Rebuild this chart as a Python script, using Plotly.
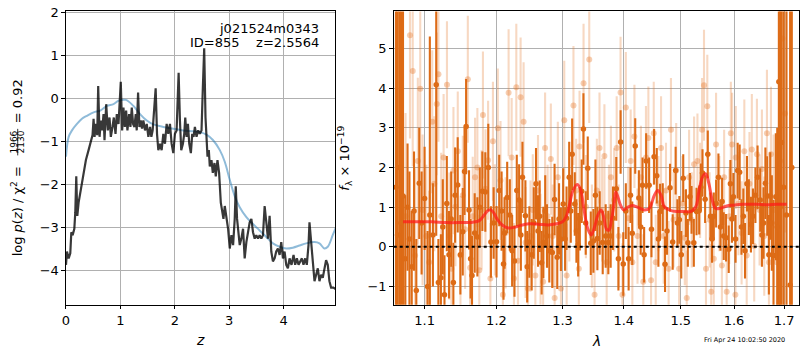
import plotly.graph_objects as go

# ---------------- p(z) panel ----------------
pz_z = [0.000, 0.018, 0.049, 0.079, 0.098, 0.122, 0.153, 0.171, 0.189, 0.208, 0.232, 0.275, 0.324,
        0.366, 0.415, 0.458, 0.488, 0.507, 0.525, 0.549, 0.574, 0.592, 0.617, 0.641, 0.665, 0.690,
        0.708, 0.739, 0.769, 0.800, 0.824, 0.855, 0.879, 0.910, 0.934, 0.965, 0.983, 1.007, 1.032,
        1.056, 1.081, 1.105, 1.129, 1.160, 1.184, 1.209, 1.233, 1.258, 1.282, 1.300, 1.325, 1.349,
        1.374, 1.398, 1.422, 1.453, 1.484, 1.514, 1.545, 1.569, 1.593, 1.624, 1.648, 1.673, 1.697,
        1.728, 1.758, 1.789, 1.819, 1.850, 1.880, 1.911, 1.941, 1.972, 2.002, 2.033, 2.051, 2.070,
        2.094, 2.118, 2.149, 2.173, 2.192, 2.216, 2.241, 2.265, 2.295, 2.320, 2.344, 2.369, 2.399,
        2.430, 2.460, 2.491, 2.515, 2.540, 2.564, 2.582, 2.601, 2.625, 2.643, 2.674, 2.698, 2.729,
        2.753, 2.784, 2.814, 2.845, 2.869, 2.894, 2.918, 2.949, 2.979, 3.010, 3.040, 3.071, 3.101,
        3.120, 3.144, 3.193, 3.223, 3.254, 3.284, 3.315, 3.346, 3.376, 3.407, 3.437, 3.468, 3.498,
        3.529, 3.559, 3.590, 3.620, 3.651, 3.681, 3.712, 3.742, 3.773, 3.803, 3.834, 3.864, 3.895,
        3.926, 3.956, 3.987, 4.017, 4.048, 4.078, 4.109, 4.145, 4.182, 4.212, 4.243, 4.274, 4.304,
        4.335, 4.365, 4.396, 4.426, 4.457, 4.475, 4.505, 4.536, 4.567, 4.597, 4.628, 4.658, 4.689,
        4.719, 4.750, 4.780, 4.811, 4.841, 4.872, 4.914, 4.963]
pz_logp = [-3.87, -3.56, -3.72, -3.60, -3.11, -3.18, -3.03, -2.65, -1.81, -2.73, -2.42, -2.11, -1.73,
           -1.43, -1.20, -0.97, -0.85, -0.47, -0.89, -0.59, -0.85, 0.29, -0.89, -0.51, -0.74, -0.36,
           -0.97, -0.13, -0.74, -0.44, -0.89, -0.66, -0.44, -0.82, -0.36, -0.59, -0.13, 0.39, -0.74,
           -0.21, -0.66, -0.28, -0.74, -0.36, -0.66, -0.21, -0.59, -0.66, -0.36, -0.74, 0.14, -0.66,
           -0.51, -0.70, -0.51, -0.74, -0.59, -0.89, -0.66, -0.89, -0.74, -0.13, 0.24, -0.82, -1.20,
           -1.05, -1.20, -0.82, -1.05, -0.59, -0.82, -0.59, -1.05, -1.27, -0.82, -0.74, -0.13, 0.60,
           -0.51, -1.20, -1.05, -0.82, -0.44, -0.89, -0.59, -1.05, -1.27, -0.82, -0.89, -0.66, -0.89,
           -0.74, -0.82, -0.74, 0.25, 1.17, -0.44, -0.97, -1.35, -1.20, -1.58, -1.43, -1.73, -1.50,
           -1.81, -1.43, -1.73, -2.42, -2.65, -2.80, -2.50, -2.80, -3.03, -3.49, -3.18, -3.41, -2.80,
           -2.04, -2.80, -3.41, -3.26, -3.03, -3.72, -3.34, -3.11, -2.88, -2.80, -3.11, -3.26, -3.18,
           -3.26, -3.18, -3.26, -3.18, -2.50, -2.95, -3.26, -2.73, -3.56, -3.79, -3.72, -3.56, -3.49,
           -3.64, -3.34, -3.72, -3.56, -3.87, -3.95, -3.72, -3.87, -3.64, -3.87, -3.72, -3.87, -3.79,
           -3.72, -3.87, -3.72, -3.87, -3.41, -2.88, -3.26, -3.79, -4.25, -4.10, -3.95, -4.25, -4.10,
           -4.17, -3.95, -3.76, -3.87, -4.25, -4.40, -4.40, -4.44]

prior_z = [0.000, 0.049, 0.110, 0.201, 0.293, 0.385, 0.507, 0.629, 0.751, 0.873, 0.965, 1.100,
           1.239, 1.361, 1.484, 1.606, 1.789, 1.972, 2.155, 2.338, 2.460, 2.582, 2.704, 2.827,
           2.918, 3.010, 3.101, 3.193, 3.315, 3.437, 3.559, 3.681, 3.803, 3.926, 4.048, 4.170,
           4.292, 4.414, 4.567, 4.658, 4.750, 4.811, 4.902, 4.963]
prior_logp = [-1.35, -0.89, -0.74, -0.59, -0.47, -0.40, -0.32, -0.28, -0.17, -0.13, -0.05, -0.03,
              -0.17, -0.36, -0.51, -0.60, -0.66, -0.70, -0.74, -0.76, -0.78, -0.84, -0.97, -1.20,
              -1.47, -1.89, -2.27, -2.53, -2.76, -2.92, -3.07, -3.22, -3.37, -3.45, -3.49, -3.47,
              -3.42, -3.37, -3.34, -3.37, -3.49, -3.45, -3.18, -2.99]

# ---------------- spectrum panel ----------------
# binned spectrum (dark)
spec_wave = [1.0625, 1.0645, 1.0668, 1.0690, 1.0716, 1.0745, 1.0775, 1.0800, 1.0830, 1.0860, 1.0890,
             1.0929, 1.0960, 1.1000, 1.1040, 1.1070, 1.1111, 1.1156, 1.1185, 1.1219, 1.1245, 1.1268,
             1.1300, 1.1330, 1.1360, 1.1390, 1.1414, 1.1450, 1.1487, 1.1520, 1.1545, 1.1567, 1.1608,
             1.1630, 1.1650, 1.1688, 1.1726, 1.1760, 1.1797, 1.1839, 1.1882, 1.1920, 1.1959, 1.2001,
             1.2040, 1.2075, 1.2103, 1.2118, 1.2157, 1.2196, 1.2230, 1.2265, 1.2299, 1.2334, 1.2360,
             1.2384, 1.2428, 1.2455, 1.2488, 1.2523, 1.2555, 1.2589, 1.2620, 1.2645, 1.2675, 1.2701,
             1.2730, 1.2757, 1.2793, 1.2839, 1.2875, 1.2917, 1.2945, 1.2974, 1.3011, 1.3040, 1.3063,
             1.3105, 1.3130, 1.3152, 1.3194, 1.3220, 1.3248, 1.3275, 1.3305, 1.3333, 1.3370, 1.3403,
             1.3452, 1.3495, 1.3528, 1.3560, 1.3598, 1.3648, 1.3697, 1.3741, 1.3780, 1.3819, 1.3874,
             1.3910, 1.3947, 1.3992, 1.4035, 1.4083, 1.4115, 1.4145, 1.4196, 1.4259, 1.4290, 1.4322,
             1.4350, 1.4385, 1.4437, 1.4478, 1.4524, 1.4571, 1.4600, 1.4630, 1.4677, 1.4718, 1.4753,
             1.4807, 1.4855, 1.4908, 1.4940, 1.4975, 1.5010, 1.5046, 1.5095, 1.5130, 1.5168, 1.5198,
             1.5240, 1.5290, 1.5339, 1.5370, 1.5401, 1.5450, 1.5500, 1.5550, 1.5580, 1.5613, 1.5657,
             1.5701, 1.5740, 1.5771, 1.5802, 1.5847, 1.5898, 1.5930, 1.5960, 1.5988, 1.6030, 1.6071,
             1.6110, 1.6145, 1.6182, 1.6215, 1.6253, 1.6290, 1.6331, 1.6371, 1.6420, 1.6463, 1.6516,
             1.6550, 1.6583, 1.6620, 1.6657, 1.6690, 1.6717, 1.6750, 1.6784, 1.6831, 1.6860, 1.6893,
             1.6920, 1.6947, 1.6990, 1.7050, 1.7125, 1.7160]
spec_flux = [1.50, 0.30, 2.00, 0.60, 1.28, -0.30, 1.00, 0.20, -0.50, 0.90, -1.10,
             1.60, 0.60, 1.22, -1.00, 0.80, 0.30, 4.08, -0.90, -0.78, 0.50, -1.21,
             1.09, -0.20, 0.70, -0.90, 1.30, 1.56, -0.20, 0.38, 1.90, 3.03, 0.93,
             -0.30, -0.72, 0.35, 0.25, 1.00, 1.40, 1.38, 2.00, 0.12, 0.60, 0.13,
             1.42, 0.90, -0.43, 0.35, 1.24, 0.80, -0.10, -0.36, 1.42, 1.18, 0.30,
             1.75, 0.78, -0.50, 0.12, -0.20, 0.60, 1.59, 0.40, 0.77, -0.40, 0.11,
             0.90, 0.27, -0.10, -0.14, 1.19, -0.26, 0.70, 0.19, 1.08, 0.20, 0.72,
             1.75, 0.90, 2.33, 1.08, 0.40, 0.05, 0.71, 1.40, 2.97, 0.60, 1.98,
             0.09, 0.15, 1.30, 0.21, 0.60, 0.11, 0.27, 0.11, 0.27, 0.72, 1.46,
             -0.30, 2.64, -0.43, 0.90, -0.30, 1.30, 0.34, 2.54, 1.23, 0.50, 1.55,
             -0.20, 2.16, 1.55, 0.44, 2.27, 1.79, 0.20, 0.89, 1.00, -0.44, 0.40,
             1.49, 0.12, 1.92, 0.60, 0.68, -0.20, 1.73, 0.85, 0.10, 1.26, 0.93,
             0.10, 0.89, 0.91, 1.50, 1.86, 1.20, 2.33, 0.77, 0.20, 0.77, 1.09,
             1.75, 0.50, 1.14, 0.27, 0.23, -0.06, 1.59, 0.70, 1.26, 0.20, 1.92,
             1.88, 0.50, 0.77, -0.10, 1.59, 1.00, 0.56, 0.77, 1.30, 1.75, 1.18,
             0.30, 0.60, 1.60, 1.28, -0.20, 1.28, 0.60, -0.22, 1.26, 0.50, 4.16,
             1.00, 2.63, 1.50, 0.80, -0.96, 2.00]
spec_err = [9.0, 9.0, 8.0, 7.0, 6.0, 1.6, 1.6, 1.7, 1.4, 1.5, 1.3,
            1.4, 1.3, 1.3, 1.4, 4.5, 1.3, 3.8, 1.1, 1.1, 1.2, 1.0,
            1.2, 1.1, 1.2, 1.0, 1.2, 1.2, 1.0, 1.1, 1.1, 1.2, 1.0,
            1.0, 1.0, 1.0, 1.0, 1.0, 1.0, 1.0, 1.1, 0.9, 0.9, 0.9,
            0.9, 1.0, 0.9, 0.9, 0.9, 0.9, 0.9, 0.9, 0.9, 0.9, 0.9,
            0.9, 0.9, 0.9, 0.9, 0.9, 0.9, 0.9, 0.9, 0.9, 0.8, 0.9,
            0.9, 0.8, 0.8, 0.9, 0.9, 0.8, 0.9, 0.8, 0.9, 0.8, 0.8,
            0.9, 0.8, 0.9, 0.8, 0.8, 0.8, 0.8, 0.8, 0.9, 0.8, 0.8,
            0.8, 0.8, 0.9, 0.8, 0.8, 0.8, 0.8, 0.8, 0.8, 0.8, 0.8,
            0.8, 0.8, 0.8, 0.7, 0.8, 0.7, 0.8, 0.7, 0.7, 0.7, 0.7,
            0.7, 0.7, 0.7, 0.7, 0.7, 0.7, 0.7, 0.7, 0.6, 0.7, 0.6,
            0.6, 0.7, 0.6, 0.6, 0.6, 0.6, 0.6, 0.6, 0.6, 0.6, 0.6,
            0.6, 0.6, 0.6, 0.6, 0.6, 0.6, 0.6, 0.6, 0.6, 0.6, 0.6,
            0.6, 0.6, 0.6, 0.6, 0.6, 0.6, 0.6, 0.6, 0.6, 0.6, 0.7,
            0.7, 0.7, 0.7, 0.7, 0.7, 0.7, 0.7, 0.7, 0.7, 0.8, 0.8,
            0.8, 0.9, 0.9, 1.0, 1.0, 1.1, 1.2, 1.4, 1.6, 2.5, 6.0,
            8.0, 8.0, 9.0, 9.0, 9.0, 9.0]

# full-resolution spectrum (light)
full_wave = [1.0749, 1.0807, 1.0843, 1.0874, 1.0910, 1.0942, 1.0973, 1.1023, 1.1060, 1.1102, 1.1130,
             1.1163, 1.1186, 1.1223, 1.1256, 1.1302, 1.1335, 1.1363, 1.1391, 1.1419, 1.1451, 1.1488,
             1.1521, 1.1553, 1.1591, 1.1623, 1.1660, 1.1693, 1.1726, 1.1753, 1.1786, 1.1805, 1.1842,
             1.1879, 1.1912, 1.1949, 1.1977, 1.2020, 1.2059, 1.2094, 1.2134, 1.2178, 1.2223, 1.2257,
             1.2292, 1.2317, 1.2356, 1.2401, 1.2431, 1.2465, 1.2505, 1.2540, 1.2579, 1.2619, 1.2658,
             1.2698, 1.2728, 1.2767, 1.2817, 1.2847, 1.2876, 1.2926, 1.2975, 1.3027, 1.3065, 1.3108,
             1.3173, 1.3216, 1.3259, 1.3270, 1.3335, 1.3373, 1.3427, 1.3470, 1.3514, 1.3551, 1.3595,
             1.3638, 1.3676, 1.3714, 1.3751, 1.3784, 1.3838, 1.3881, 1.3914, 1.3946, 1.3978, 1.4035,
             1.4076, 1.4118, 1.4147, 1.4182, 1.4235, 1.4294, 1.4335, 1.4382, 1.4424, 1.4471, 1.4518,
             1.4553, 1.4600, 1.4647, 1.4694, 1.4735, 1.4782, 1.4824, 1.4871, 1.4918, 1.4971, 1.5031,
             1.5074, 1.5110, 1.5153, 1.5202, 1.5245, 1.5307, 1.5356, 1.5393, 1.5429, 1.5466, 1.5491,
             1.5534, 1.5564, 1.5613, 1.5656, 1.5718, 1.5767, 1.5810, 1.5859, 1.5908, 1.5939, 1.5963,
             1.6027, 1.6034, 1.6087, 1.6148, 1.6201, 1.6248, 1.6302, 1.6349, 1.6396, 1.6450, 1.6503,
             1.6550, 1.6597, 1.6651, 1.6691, 1.6732, 1.6785, 1.6852, 1.6919, 1.6966, 1.7020]
full_flux = [0.77, 5.33, 4.43, -0.22, 2.16, 3.98, 0.93, 0.27, -0.39, 3.15, 1.59,
             3.60, 4.35, 0.77, 2.25, 4.08, 0.27, -0.55, 1.92, 1.01, 2.41, -0.22,
             1.30, 0.44, 4.22, -0.53, 0.77, 1.75, 2.00, -0.59, 0.93, 3.32, 1.46,
             2.18, -0.80, 2.66, 0.68, 2.99, 1.67, -1.21, 0.35, 3.88, 2.25, -0.80,
             4.02, -0.35, 3.77, 3.15, 0.11, -1.05, 0.27, 0.93, -0.72, 1.42, -0.06,
             -0.88, 2.49, 0.77, 2.21, 0.27, -1.29, 1.75, -1.05, 3.19, -0.72, 0.93,
             3.56, 1.42, -0.55, 2.53, 4.12, 1.01, 4.72, 0.27, -1.21, 1.42, 2.49,
             0.93, 2.29, -0.39, 0.77, 1.75, 1.18, 2.49, 0.27, 3.89, -1.21, 3.51,
             0.72, 2.16, -0.39, 2.78, 0.27, 1.75, -0.88, 2.25, 2.74, -0.84, 2.86,
             -0.39, 1.09, 2.49, 0.27, 1.42, -0.55, 2.95, 0.68, 1.92, -0.55, 1.09,
             0.23, -1.29, 1.75, 0.68, 2.08, 2.16, 1.42, 2.95, 4.07, -0.55, 3.54,
             0.68, -1.13, -0.30, 2.58, 1.09, -0.47, 1.75, -1.13, 0.77, 2.86, 2.58,
             -1.21, 2.25, 1.09, 0.35, 2.41, -0.22, 1.59, 2.45, 0.02, 2.33, 0.93,
             1.96, 0.27, 2.86, -0.39, 2.33, 0.93, -0.39, 2.16, 5.25, 3.36]
full_err = [2.6, 2.6, 2.4, 2.2, 2.1, 2.0, 1.9, 1.8, 1.8, 1.8, 1.7,
            1.8, 1.7, 1.6, 1.6, 1.6, 1.6, 1.5, 1.6, 1.5, 1.5, 1.5,
            1.5, 1.5, 1.6, 1.5, 1.5, 1.5, 1.5, 1.4, 1.5, 1.6, 1.5,
            1.5, 1.4, 1.5, 1.4, 1.5, 1.5, 1.4, 1.4, 1.6, 1.5, 1.4,
            1.6, 1.4, 1.5, 1.5, 1.4, 1.4, 1.4, 1.4, 1.4, 1.4, 1.4,
            1.3, 1.4, 1.3, 1.4, 1.3, 1.3, 1.4, 1.3, 1.5, 1.3, 1.3,
            1.5, 1.3, 1.3, 1.4, 1.5, 1.3, 1.6, 1.3, 1.3, 1.3, 1.4,
            1.3, 1.3, 1.3, 1.3, 1.3, 1.3, 1.3, 1.3, 1.4, 1.3, 1.4,
            1.3, 1.3, 1.2, 1.3, 1.2, 1.3, 1.2, 1.3, 1.3, 1.2, 1.3,
            1.2, 1.2, 1.3, 1.2, 1.2, 1.2, 1.3, 1.2, 1.2, 1.2, 1.2,
            1.2, 1.2, 1.2, 1.2, 1.2, 1.2, 1.2, 1.3, 1.4, 1.2, 1.3,
            1.2, 1.2, 1.2, 1.3, 1.2, 1.2, 1.2, 1.2, 1.2, 1.3, 1.3,
            1.3, 1.3, 1.3, 1.3, 1.3, 1.3, 1.3, 1.4, 1.4, 1.4, 1.4,
            1.5, 1.5, 1.6, 1.7, 1.7, 1.9, 2.0, 2.4, 2.8, 3.0]

# best-fit model
model_wave = [1.0717, 1.0922, 1.1102, 1.1288, 1.1474, 1.1660, 1.1753, 1.1823, 1.1870, 1.1916, 1.1963,
              1.2010, 1.2084, 1.2158, 1.2257, 1.2356, 1.2480, 1.2629, 1.2777, 1.2901, 1.3000, 1.3054,
              1.3108, 1.3162, 1.3232, 1.3286, 1.3341, 1.3405, 1.3459, 1.3514, 1.3568, 1.3622, 1.3665,
              1.3708, 1.3751, 1.3795, 1.3838, 1.3865, 1.3903, 1.3946, 1.4000, 1.4071, 1.4147, 1.4235,
              1.4353, 1.4441, 1.4529, 1.4588, 1.4647, 1.4706, 1.4824, 1.4941, 1.5061, 1.5184, 1.5276,
              1.5337, 1.5399, 1.5460, 1.5521, 1.5583, 1.5644, 1.5736, 1.5859, 1.5982, 1.6181, 1.6450,
              1.6651, 1.6852, 1.7054]
model_flux = [0.63, 0.63, 0.63, 0.61, 0.61, 0.62, 0.66, 0.80, 0.90, 0.93, 0.85,
              0.70, 0.55, 0.48, 0.49, 0.54, 0.58, 0.57, 0.55, 0.58, 0.63, 0.75,
              1.05, 1.40, 1.57, 1.45, 0.95, 0.45, 0.30, 0.50, 0.80, 0.93, 0.75,
              0.45, 0.42, 0.70, 1.10, 1.38, 1.25, 1.05, 0.93, 1.00, 1.04, 1.00,
              0.93, 0.97, 1.30, 1.42, 1.30, 1.01, 0.91, 0.89, 0.89, 0.89, 1.01,
              1.42, 1.75, 1.84, 1.59, 1.18, 0.97, 0.97, 1.03, 1.05, 1.07, 1.07,
              1.06, 1.07, 1.07]

z_ticks = [0, 1, 2, 3, 4]
logp_ticks = [-4, -3, -2, -1, 0, 1, 2]
wave_ticks = [1.1, 1.2, 1.3, 1.4, 1.5, 1.6, 1.7]
flux_ticks = [-1, 0, 1, 2, 3, 4, 5]

W, H = 800, 350
FONT = "DejaVu Sans"
DARK = "rgb(221,107,22)"
LIGHT = "rgba(228,115,35,0.28)"


def px(x):
    return x / W


def py(y):
    return 1 - y / H


fig = go.Figure()

# p(z) panel
fig.add_trace(go.Scatter(x=prior_z, y=prior_logp, mode="lines", line_shape="spline",
                         line=dict(color="rgba(31,119,180,0.5)", width=2),
                         xaxis="x", yaxis="y", showlegend=False, hoverinfo="skip"))
fig.add_trace(go.Scatter(x=pz_z, y=pz_logp, mode="lines",
                         line=dict(color="rgba(0,0,0,0.78)", width=2.2),
                         xaxis="x", yaxis="y", showlegend=False, hoverinfo="skip"))

# spectrum panel
fig.add_trace(go.Scatter(x=full_wave, y=full_flux, mode="markers",
                         marker=dict(color="rgba(228,115,35,0.35)", size=6, line=dict(width=0)),
                         error_y=dict(type="data", array=full_err, color=LIGHT,
                                      thickness=2.1, width=0),
                         xaxis="x2", yaxis="y2", showlegend=False, hoverinfo="skip"))
fig.add_trace(go.Scatter(x=spec_wave, y=spec_flux, mode="markers",
                         marker=dict(color=DARK, size=5.5, line=dict(width=0)),
                         error_y=dict(type="data", array=spec_err, color=DARK,
                                      thickness=2.1, width=0),
                         xaxis="x2", yaxis="y2", showlegend=False, hoverinfo="skip"))
fig.add_trace(go.Scatter(x=model_wave, y=model_flux, mode="lines", line_shape="spline",
                         line=dict(color="rgba(255,25,25,0.72)", width=3),
                         xaxis="x2", yaxis="y2", showlegend=False, hoverinfo="skip"))

axis_common = dict(showline=True, linecolor="black", linewidth=1, mirror=True,
                   ticks="outside", ticklen=3.5, tickcolor="black", tickwidth=1,
                   showgrid=True, gridcolor="#b0b0b0", gridwidth=1, zeroline=False,
                   ticklabeloverflow="allow",
                   tickfont=dict(family=FONT, size=13, color="black"))

fig.update_layout(
    width=W, height=H,
    margin=dict(l=0, r=0, t=0, b=0),
    paper_bgcolor="white", plot_bgcolor="white",
    font=dict(family=FONT, color="black"),
    xaxis=dict(domain=[px(62.3), px(333)], range=[0, 4.95], tickvals=z_ticks,
               anchor="y", **axis_common),
    yaxis=dict(domain=[py(304), py(5.5)], range=[-4.8, 2.03], tickvals=logp_ticks,
               anchor="x", **axis_common),
    xaxis2=dict(domain=[px(391.7), px(799.3)], type="log", range=[0.02516, 0.23846],
                tickvals=wave_ticks, ticktext=[f"{v:.1f}" for v in wave_ticks],
                anchor="y2", **axis_common),
    yaxis2=dict(domain=[py(304), py(5.5)], range=[-1.46, 5.93], tickvals=flux_ticks,
                anchor="x2", **axis_common),
)

# zero-flux reference line
fig.add_shape(type="line", xref="x2 domain", yref="y2", x0=0, x1=1, y0=0, y1=0,
              line=dict(color="black", width=2, dash="dot"))

ann = []
# p(z) y label, with a stacked chi-square fraction
ann.append(dict(text="log <i>p</i>(<i>z</i>) / χ<sup>2</sup> =", x=px(13), y=py(209),
                textangle=-90, font=dict(size=13)))
ann.append(dict(text="1966", x=px(10.5), y=py(138.5), textangle=-90, font=dict(size=9)))
ann.append(dict(text="2130", x=px(17.5), y=py(138.5), textangle=-90, font=dict(size=9)))
ann.append(dict(text="= 0.92", x=px(13), y=py(97), textangle=-90, font=dict(size=13)))
# spectrum y label
ann.append(dict(text="<i>f</i><sub>λ</sub> × 10<sup>−19</sup>", x=px(343), y=py(155),
                textangle=-90, font=dict(size=13)))
# x labels
ann.append(dict(text="<i>z</i>", x=px(197.5), y=py(340), font=dict(size=14)))
ann.append(dict(text="<i>λ</i>", x=px(595), y=py(341), font=dict(size=14)))
# object info
ann.append(dict(text="j021524m0343", x=px(319), y=py(22.5), xanchor="right",
                font=dict(size=13)))
ann.append(dict(text="ID=855    z=2.5564", x=px(319), y=py(37.5), xanchor="right",
                font=dict(size=13)))
# timestamp
ann.append(dict(text="Fri Apr 24 10:02:50 2020", x=px(787), y=py(340), xanchor="right",
                font=dict(size=6.5)))

for a in ann:
    a.setdefault("xanchor", "center")
    a.update(xref="paper", yref="paper", yanchor="middle", showarrow=False)
    a["font"].update(family=FONT, color="black")
    fig.add_annotation(**a)

# fraction bar
fig.add_shape(type="line", xref="paper", yref="paper", x0=px(13.8), x1=px(13.8),
              y0=py(125), y1=py(152), line=dict(color="black", width=0.8))

fig.write_html("out.html")
